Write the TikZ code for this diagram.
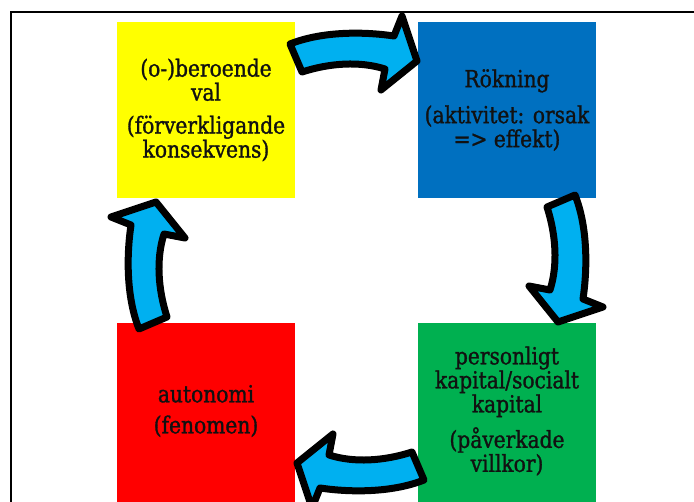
\documentclass[tikz,border=0pt]{standalone}
\usepackage{fontspec}
\setmainfont{DejaVu Serif}[FakeStretch=0.86, FakeBold=1.2]
\definecolor{boxyellow}{HTML}{FFFF00}
\definecolor{boxblue}{HTML}{0070C0}
\definecolor{boxred}{HTML}{FF0000}
\definecolor{boxgreen}{HTML}{00B050}
\definecolor{arrowcyan}{HTML}{00B0F0}
\definecolor{textdark}{HTML}{111111}
\begin{document}
\begin{tikzpicture}[x=1pt,y=-1pt,
  box/.style={rectangle, minimum width=178pt, minimum height=176pt, inner sep=0pt,
    align=center, text=textdark, font=\fontsize{23.5}{24}\selectfont},
  blockarrow/.style={draw=black, fill=arrowcyan, line width=7pt, line join=round},
  frame/.style={draw=black, line width=2pt}]
\clip (0,0) rectangle (694,502);
\fill[white] (0,0) rectangle (694,502);
\draw[frame] (10.5,520) -- (10.5,12) -- (710,12);

\node[box, fill=boxyellow] (val) at (206,110) {(o-)beroende\\val\\[9pt](förverkligande\\konsekvens)};
\node[box, fill=boxblue] (rok) at (507,110) {Rökning\\[12pt](aktivitet: orsak\\=> effekt)};
\node[box, fill=boxgreen] (kap) at (507,411) {personligt\\kapital/socialt\\kapital\\[9pt](påverkade\\villkor)};
\node[box, fill=boxred] (aut) at (206,411) {autonomi\\[7pt](fenomen)};
\fill[boxgreen] (kap.south west) rectangle ++(178,6);
\fill[boxred] (aut.south west) rectangle ++(178,6);

\coordinate (c) at (357,262);
\foreach \ang in {0,-90,-180,90}{
  \begin{scope}[rotate around={\ang:(357,262)}]
    \path[blockarrow] (394,36) .. controls (360,31) and (320,32) .. (290,44)
      -- (302,72) .. controls (330,63) and (360,61) .. (385,69)
      -- (381,90) -- (417,61) -- (402,16) -- cycle;
  \end{scope}
}
\end{tikzpicture}
\end{document}
